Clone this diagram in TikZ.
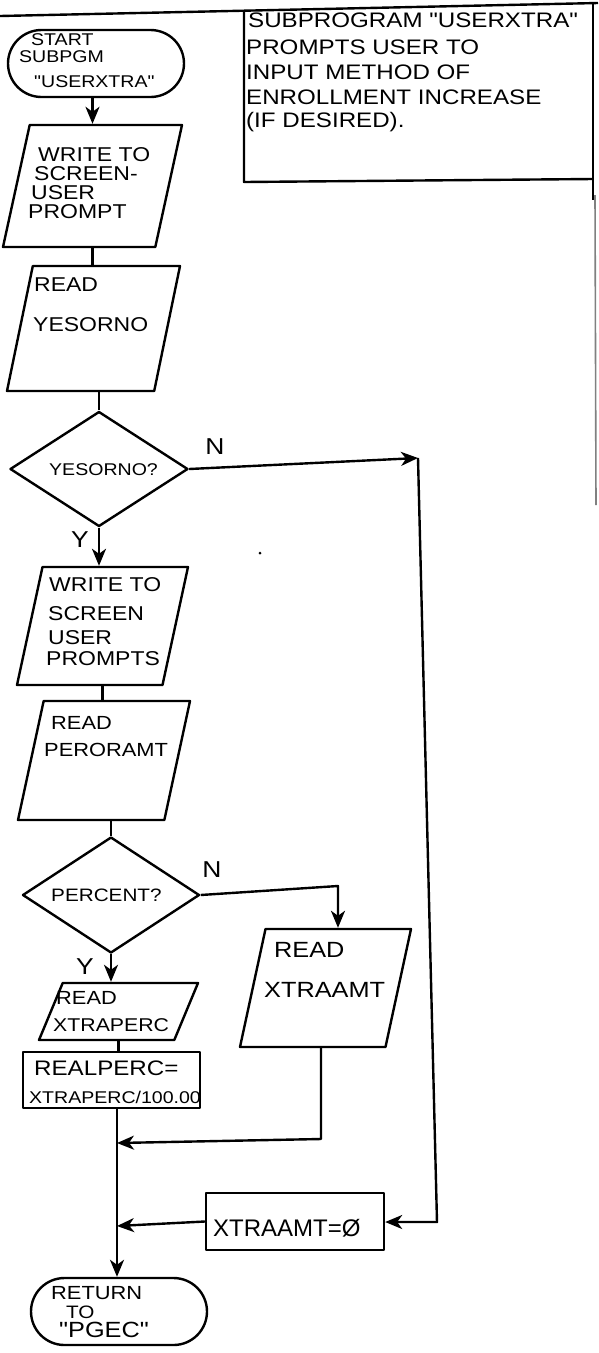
\documentclass[tikz,border=0pt]{standalone}
\usepackage{fontspec}
\usetikzlibrary{shapes.geometric,shapes.misc,arrows.meta}
\newfontfamily\hand[FakeStretch=1.15]{Liberation Sans}
\newfontfamily\handn{Liberation Sans}
\newcommand\fsz[1]{\fontsize{#1pt}{#1pt}\selectfont}
\begin{document}
\begin{tikzpicture}[yscale=-1, line width=2.4pt, line join=round,
  arr/.style={-{Stealth[length=17pt,width=14pt,inset=5pt,fill=black]}},
  terminal/.style={draw, shape=rounded rectangle, minimum width=178pt, minimum height=67pt, inner sep=1pt},
  iobox/.style={draw, shape=trapezium, trapezium left angle=78, trapezium right angle=102,
                trapezium stretches=true, inner sep=1pt},
  decision/.style={draw, shape=diamond, minimum width=178pt, minimum height=115pt, inner sep=1pt},
  procbox/.style={draw, shape=rectangle, inner sep=1pt},
  txt/.style={anchor=west, inner sep=0pt, font={\hand\fsz{#1}}},
  lbl/.style={inner sep=0pt, font={\hand\fsz{23}}},
]
\begin{scope}[x=1pt,y=1pt]
\useasboundingbox (0,0) rectangle (598,1353);

% header rule and the description box
\draw (0,16) -- (598,3);
\draw (244,10.5) -- (244,182) -- (593,179);
\draw (593,3.5) -- (593,200);
\draw[gray, line width=1.6pt] (595,195) -- (596,505);
\node[txt=21] (n1) at (247,20) {SUBPROGRAM "USERXTRA"};
\node[txt=21] (n2) at (245,47) {PROMPTS USER TO};
\node[txt=21] (n3) at (245,72) {INPUT METHOD OF};
\node[txt=21] (n4) at (245,97) {ENROLLMENT INCREASE};
\node[txt=21] (n5) at (245,122) {(IF DESIRED).};

% start terminal
\node[terminal] (start) at (96,63.5) {};
\node[txt=17] (s1) at (30,40) {START};
\node[txt=17] (s2) at (18,57) {SUBPGM};
\node[txt=17] (s3) at (33,82) {"USERXTRA"};

% first prompt
\node[iobox, minimum width=179pt, minimum height=122pt] (p1) at (92.5,186) {};
\node[txt=20] (p1a) at (37,155) {WRITE TO};
\node[txt=20] (p1b) at (33,174) {SCREEN-};
\node[txt=20] (p1c) at (30,193) {USER};
\node[txt=20] (p1d) at (27,212) {PROMPT};

\node[iobox, minimum width=173pt, minimum height=125pt] (p2) at (93.5,328.5) {};
\node[txt=20] (p2a) at (33,285) {READ};
\node[txt=20] (p2b) at (32,325) {YESORNO};

\node[decision] (d1) at (99,469) {};
\node[txt=17] (d1t) at (48,470) {YESORNO?};

% "yes" branch
\node[iobox, minimum width=171pt, minimum height=118pt] (p3) at (102.5,626) {};
\node[txt=20] (p3a) at (48,585) {WRITE TO};
\node[txt=20] (p3b) at (47,614) {SCREEN};
\node[txt=20] (p3c) at (47,638) {USER};
\node[txt=20] (p3d) at (45,659) {PROMPTS};

\node[iobox, minimum width=172pt, minimum height=119pt] (p4) at (104,760.5) {};
\node[txt=19] (p4a) at (50,723) {READ};
\node[txt=19] (p4b) at (43,750) {PERORAMT};

\node[decision, minimum width=177pt, minimum height=116pt] (d2) at (111,895) {};
\node[txt=18] (d2t) at (50,895) {PERCENT?};

\node[iobox, minimum width=171pt, minimum height=118pt] (p5) at (325.5,988) {};
\node[txt=22] (p5a) at (273,950) {READ};
\node[txt=22] (p5b) at (263,990) {XTRAAMT};

\node[iobox, minimum width=159pt, minimum height=57pt] (p6) at (118.5,1011.5) {};
\node[txt=19] (p6a) at (55,998) {READ};
\node[txt=18.5] (p6b) at (52,1025) {XTRAPERC};

\node[procbox, minimum width=177pt, minimum height=56pt] (r) at (111.5,1080) {};
\node[txt=21] (ra) at (33,1068) {REALPERC=};
\node[txt=17] (rb) at (28,1097) {XTRAPERC/100.00};

\node[procbox, minimum width=178pt, minimum height=57pt] (z) at (295,1221.5) {};
\node[anchor=west, inner sep=0pt, font={\handn\fsz{24}}] (zt) at (212,1228) {XTRAAMT=Ø};

% return terminal
\node[terminal] (ret) at (119,1311.5) {};
\node[txt=19] (t1) at (50,1293) {RETURN};
\node[txt=18] (t2) at (65,1312) {TO};
\node[txt=22] (t3) at (58,1330) {"PGEC"};

% branch labels
\node[lbl] (l1) at (215,447) {N};
\node[lbl] (l2) at (80,540) {Y};
\node[lbl] (l3) at (212,870) {N};
\node[lbl] (l4) at (85,967) {Y};

% bends and junctions
\coordinate (c1) at (418,458);
\coordinate (c2) at (437,1222);
\coordinate (c3) at (338,886);
\coordinate (j1) at (117,1143);
\coordinate (j2) at (117,1226);
\coordinate (k1) at (321,1139);

% connectors
\draw[arr] (p1.north |- start.south) -- (p1.north);
\draw (p1.south) -- (p1.south |- p2.north);
\draw (d1.north |- p2.south) -- (d1.north);
\draw[arr] (d1.south) -- (d1.south |- p3.north);
\draw[arr] (d1.east) -- (c1);
\draw[arr] (c1) -- (c2) -- (c2 -| z.east);
\draw (p3.south) -- (p3.south |- p4.north);
\draw (d2.north |- p4.south) -- (d2.north);
\draw[arr] (d2.east) -- (c3) -- (c3 |- p5.north);
\draw[arr] (d2.south) -- (d2.south |- p6.north);
\draw (p6.south) -- (p6.south |- r.north);
\draw[arr] (j1 |- r.south) -- (j2 |- ret.north);
\draw[arr] (k1 |- p5.south) -- (k1) -- (j1);
\draw[arr] (z.west) -- (j2);

\fill (260,553) circle (1.5);
\end{scope}
\end{tikzpicture}
\end{document}
